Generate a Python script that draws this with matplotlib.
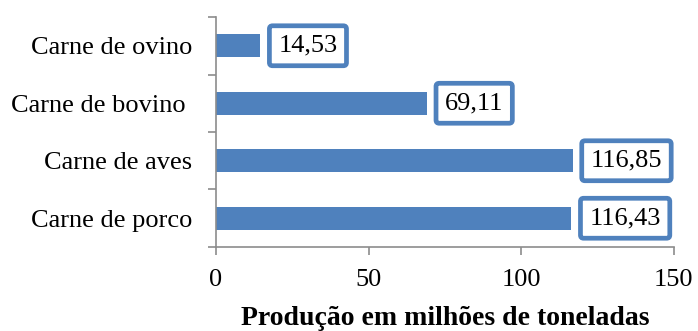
import numpy as np
import matplotlib.pyplot as plt

# produção mundial de carnes (milhões de toneladas)
categorias = ['Carne de porco', 'Carne de aves', 'Carne de bovino ', 'Carne de ovino']
producao = [116.43, 116.85, 69.11, 14.53]
rotulos = ['116,43', '116,85', '69,11', '14,53']

plt.rcParams['font.family'] = ['Liberation Serif', 'DejaVu Serif']
azul = '#4F81BD'
cinza = '#8C8C8C'

fig = plt.figure(figsize=(6.98, 3.31), dpi=100)
ax = fig.add_axes([0.3095, 0.2538, 0.656, 0.6948])

y = np.arange(len(categorias))
ax.barh(y, producao, height=0.4, color=azul)

for yi, v, txt in zip(y, producao, rotulos):
    ax.annotate(txt, (v, yi), xytext=(18, 0), textcoords='offset pixels',
                ha='left', va='center', fontsize=19,
                bbox=dict(boxstyle='round,pad=0.34,rounding_size=0.12',
                          fc='white', ec=azul, lw=3.4))

ax.set_xlim(0, 150)
ax.set_ylim(-0.5, len(categorias) - 0.5)
ax.set_xticks([0, 50, 100, 150])
ax.set_yticks(y)
ax.set_yticklabels(categorias)
ax.set_yticks(np.arange(-0.5, len(categorias)), minor=True)

ax.tick_params(axis='y', which='major', length=0, pad=17, labelsize=19)
ax.tick_params(axis='y', which='minor', length=6, color=cinza, width=1.2)
ax.tick_params(axis='x', length=6, color=cinza, width=1.2, labelsize=19, pad=10)

for s in ['top', 'right']:
    ax.spines[s].set_visible(False)
for s in ['left', 'bottom']:
    ax.spines[s].set_color(cinza)
    ax.spines[s].set_linewidth(1.2)

ax.set_xlabel('Produção em milhões de toneladas', fontsize=20,
              fontweight='bold', labelpad=10.5)

fig.savefig('out.png', dpi=100)
